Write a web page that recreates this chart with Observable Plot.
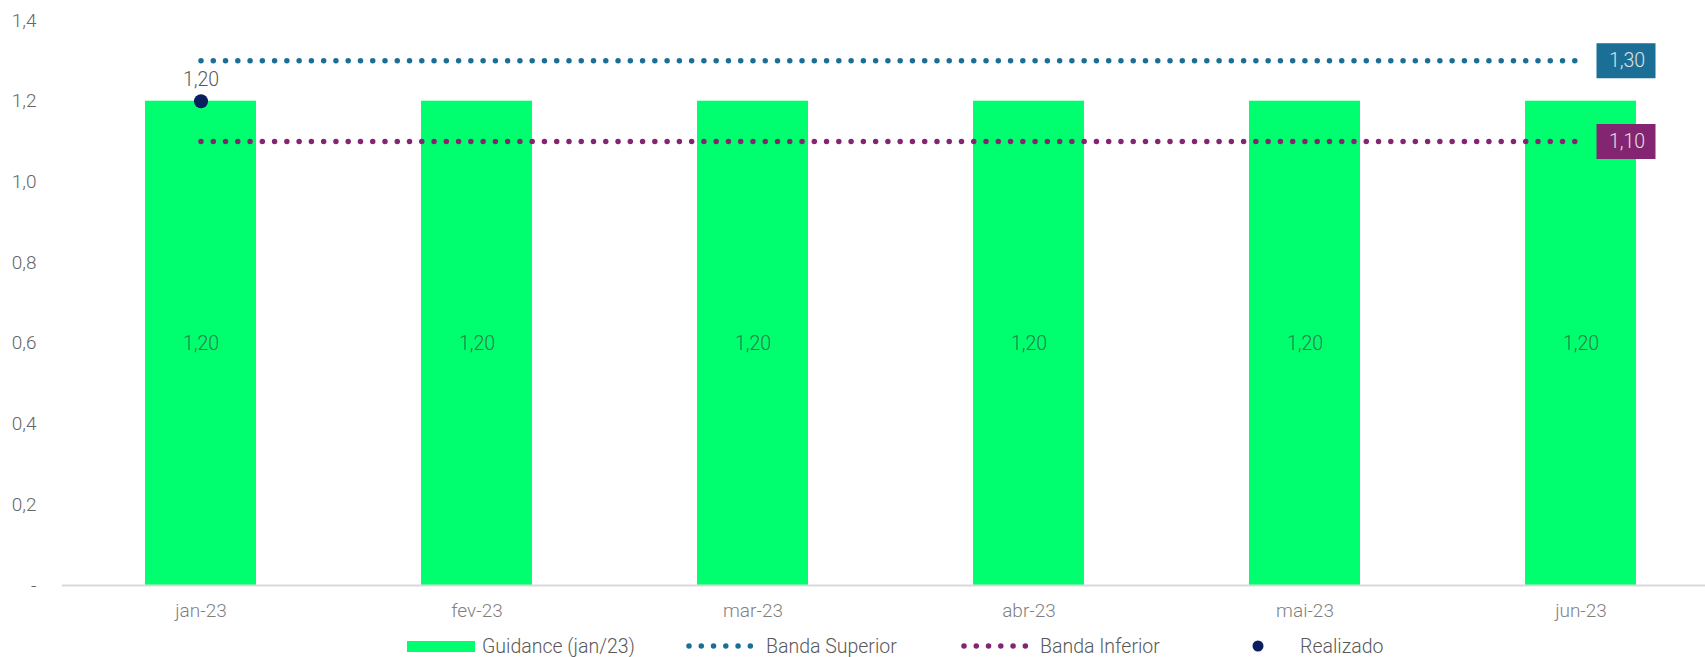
<!DOCTYPE html>
<html>
<head>
<meta charset="utf-8">
<script src="https://cdn.jsdelivr.net/npm/d3@7"></script>
<script src="https://cdn.jsdelivr.net/npm/@observablehq/plot@0.6"></script>
<style>
  html, body { margin: 0; padding: 0; background: #fff; }
  body { width: 1705px; height: 657px; position: relative; overflow: hidden; font-family: Roboto, "Noto Sans", sans-serif; font-weight: 300; }
  #chart { position: absolute; left: 0; top: 0; }
  #legend { position: absolute; left: 0; top: 635px; height: 22px; width: 1705px; font-size: 19.5px; color: #595959; font-weight: 300; }
  .item { position: absolute; top: 0; height: 22px; display: flex; align-items: center; }
  .item svg { display: block; }
  .item span { white-space: nowrap; }
</style>
</head>
<body>
<div id="chart"></div>
<div id="legend"></div>
<script>
const months = ["jan-23", "fev-23", "mar-23", "abr-23", "mai-23", "jun-23"];
const guidance = [1.20, 1.20, 1.20, 1.20, 1.20, 1.20];
const bandaSuperior = [1.30, 1.30, 1.30, 1.30, 1.30, 1.30];
const bandaInferior = [1.10, 1.10, 1.10, 1.10, 1.10, 1.10];
const realizado = [1.20, null, null, null, null, null];
const yTicks = [0, 0.2, 0.4, 0.6, 0.8, 1.0, 1.2, 1.4];
const yTickLabels = ["-", "0,2", "0,4", "0,6", "0,8", "1,0", "1,2", "1,4"];
const seriesNames = ["Guidance (jan/23)", "Banda Superior", "Banda Inferior", "Realizado"];

const colors = {
  guidance: "#00FF6E",
  sup: "#1B6F96",
  inf: "#832570",
  real: "#0B1F5E"
};
const dotDash = "0 12.266";

const fmt = v => v.toFixed(2).replace(".", ",");

const rows = months.map((m, i) => ({
  month: m, guidance: guidance[i], sup: bandaSuperior[i], inf: bandaInferior[i], real: realizado[i]
}));
const realRows = rows.filter(d => d.real != null);
const lastRow = rows[rows.length - 1];

const boxSymbol = {
  draw(ctx) { ctx.rect(-29.5, -17.5, 59, 35); }
};

const plot = Plot.plot({
  width: 1705,
  height: 630,
  marginLeft: 62,
  marginRight: 0,
  marginTop: 20,
  marginBottom: 45,
  style: { fontFamily: "Roboto, 'Noto Sans', sans-serif", fontWeight: 300, fontSize: "19px", background: "#fff", overflow: "visible" },
  x: { domain: months, range: [62, 1719], paddingInner: 0.598, paddingOuter: 0.299, label: null },
  y: { domain: [0, 1.4], label: null },
  marks: [
    Plot.barY(rows, { x: "month", y: "guidance", fill: colors.guidance }),
    Plot.ruleY([0], { stroke: "#D9D9D9", strokeWidth: 2 }),
    Plot.text(rows, { x: "month", y: d => d.guidance / 2, text: d => fmt(d.guidance), fill: "#2E7A4C", fontSize: 19.5 }),
    Plot.lineY(rows, { x: "month", y: "sup", stroke: colors.sup, strokeWidth: 5.5, strokeLinecap: "round", strokeDasharray: dotDash }),
    Plot.lineY(rows, { x: "month", y: "inf", stroke: colors.inf, strokeWidth: 5.5, strokeLinecap: "round", strokeDasharray: dotDash }),
    Plot.dot(realRows, { x: "month", y: "real", r: 7, fill: colors.real, stroke: "none" }),
    Plot.text(realRows, { x: "month", y: "real", text: d => fmt(d.real), dy: -21, fill: "#595959", fontSize: 19.5 }),
    Plot.dot([lastRow], { x: "month", y: "sup", symbol: boxSymbol, r: 10, fill: colors.sup, stroke: "none", dx: 45 }),
    Plot.dot([lastRow], { x: "month", y: "inf", symbol: boxSymbol, r: 10, fill: colors.inf, stroke: "none", dx: 45 }),
    Plot.text([lastRow], { x: "month", y: "sup", text: d => fmt(d.sup), dx: 46, fill: "#E0E0E0", fontSize: 19.5 }),
    Plot.text([lastRow], { x: "month", y: "inf", text: d => fmt(d.inf), dx: 46, fill: "#E0E0E0", fontSize: 19.5 }),
    Plot.axisY({ ticks: yTicks, tickFormat: (d) => yTickLabels[yTicks.indexOf(d)], tickSize: 0, tickPadding: 26, fill: "#666666", fontSize: 19, label: null }),
    Plot.axisX({ tickSize: 0, tickPadding: 18, fill: "#7F7F7F", fontSize: 19, label: null })
  ]
});
document.getElementById("chart").appendChild(plot);

// Legend
const legend = document.getElementById("legend");
function dotsSwatch(color, w) {
  return `<svg width="${w}" height="22"><line x1="3" x2="${w - 3}" y1="11" y2="11" stroke="${color}" stroke-width="5.5" stroke-linecap="round" stroke-dasharray="${dotDash}"/></svg>`;
}
const items = [
  { left: 407, swatch: `<svg width="68" height="22"><rect x="0" y="6" width="68" height="11" fill="${colors.guidance}"/></svg>`, label: seriesNames[0], gap: 7 },
  { left: 686, swatch: dotsSwatch(colors.sup, 72), label: seriesNames[1], gap: 8 },
  { left: 961, swatch: dotsSwatch(colors.inf, 72), label: seriesNames[2], gap: 7 },
  { left: 1251, swatch: `<svg width="14" height="22"><circle cx="7" cy="11" r="5.5" fill="${colors.real}"/></svg>`, label: seriesNames[3], gap: 35 }
];
for (const it of items) {
  const div = document.createElement("div");
  div.className = "item";
  div.style.left = it.left + "px";
  div.innerHTML = it.swatch + `<span style="margin-left:${it.gap}px">${it.label}</span>`;
  legend.appendChild(div);
}
</script>
</body>
</html>
